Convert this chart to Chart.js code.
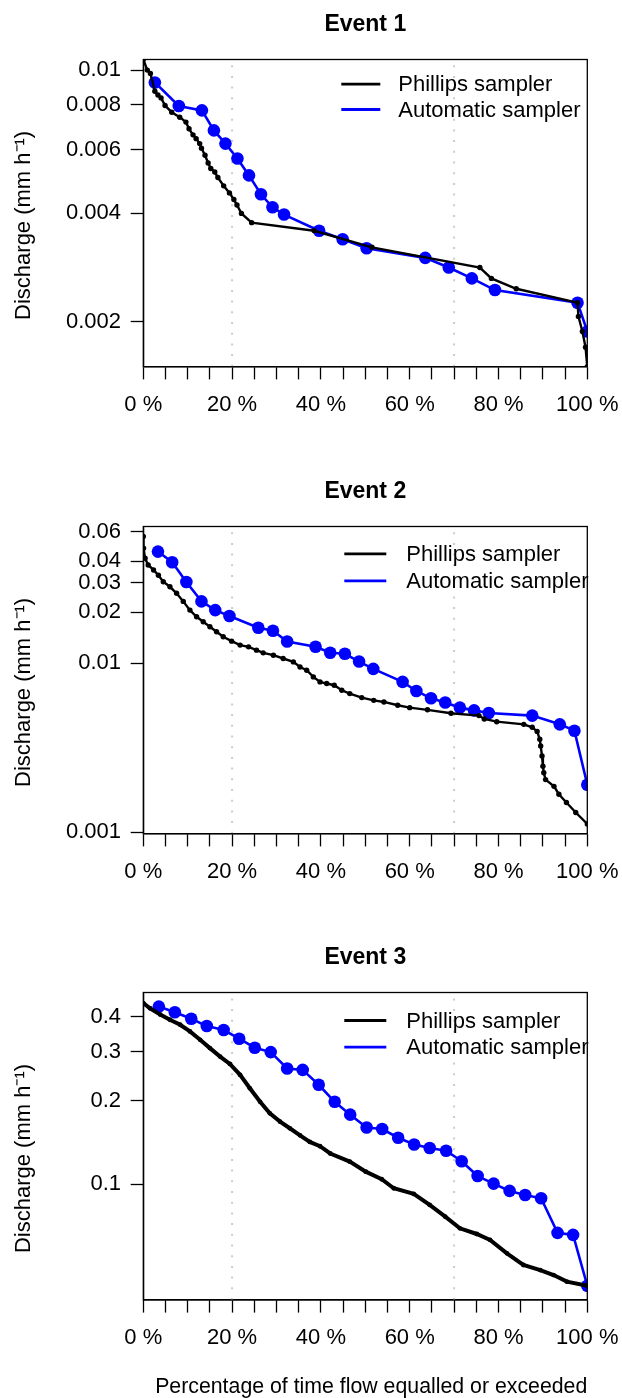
<!DOCTYPE html>
<html>
<head>
<meta charset="utf-8">
<script src="https://cdn.jsdelivr.net/npm/chart.js@4.4.0/dist/chart.umd.min.js"></script>
<style>
  html, body { margin: 0; padding: 0; background: #fff; }
  .panel { position: absolute; left: 0; width: 622px; }
</style>
</head>
<body>
<div class="panel" style="top:0px"><canvas id="event1" width="622" height="466"></canvas></div>
<div class="panel" style="top:467px"><canvas id="event2" width="622" height="466"></canvas></div>
<div class="panel" style="top:933px"><canvas id="event3" width="622" height="465"></canvas></div>
<script>
// Flow duration curves: % of time flow equalled or exceeded vs discharge (mm/h)
const event1PhillipsX = [0, 0.9, 1.6, 2.6, 3.3, 4.0, 4.9, 6.4, 8.2, 9.6, 10.3, 11.2, 11.9, 12.7, 13.1, 13.9, 14.6, 15.2, 16.1, 16.8, 18.1, 19.4, 20.4, 21.1, 22.1, 24.4, 38.5, 51.5, 75.8, 78.4, 84.0, 97.8, 98.0, 98.9, 99.6, 100];
const event1PhillipsY = [0.0107, 0.0100, 0.00979, 0.00873, 0.00853, 0.00837, 0.00797, 0.00764, 0.00740, 0.00717, 0.00687, 0.00661, 0.00645, 0.00625, 0.00607, 0.00580, 0.00552, 0.00533, 0.00521, 0.00503, 0.00477, 0.00456, 0.00437, 0.00422, 0.00400, 0.00377, 0.00358, 0.00322, 0.00283, 0.00264, 0.00247, 0.00226, 0.00207, 0.00188, 0.00170, 0.0015];
const event1AutoX = [2.6, 8.0, 13.2, 15.9, 18.5, 21.2, 23.8, 26.5, 29.1, 31.7, 39.6, 44.9, 50.3, 63.5, 68.8, 74.0, 79.2, 97.8, 100];
const event1AutoY = [0.00924, 0.00795, 0.00773, 0.00680, 0.00625, 0.00568, 0.00510, 0.00452, 0.00416, 0.00397, 0.00358, 0.00339, 0.00320, 0.00301, 0.00283, 0.00264, 0.00245, 0.00226, 0.00188];

const event2PhillipsX = [0, 0.05, 0.4, 1.1, 2.3, 3.4, 4.5, 6.0, 7.5, 9.0, 10.5, 12.0, 13.5, 15.0, 16.5, 18.0, 19.9, 21.8, 23.7, 25.5, 27.0, 29.3, 31.5, 33.8, 35.3, 36.8, 38.3, 39.8, 41.3, 43.0, 44.7, 46.5, 49.2, 51.9, 54.2, 57.3, 60.0, 64.0, 69.3, 75.6, 76.8, 79.6, 85.7, 87.6, 88.7, 89.3, 89.5, 89.8, 90.0, 90.2, 90.6, 92.5, 93.6, 95.3, 97.4, 100];
const event2PhillipsY = [0.0561, 0.0479, 0.0417, 0.0381, 0.0356, 0.0331, 0.0303, 0.0283, 0.0259, 0.0232, 0.0206, 0.0188, 0.01757, 0.01641, 0.01533, 0.01432, 0.0135, 0.01279, 0.01249, 0.01194, 0.01151, 0.01115, 0.01066, 0.01018, 0.0095, 0.00909, 0.0083, 0.00775, 0.00758, 0.00741, 0.00692, 0.00661, 0.00626, 0.00603, 0.0059, 0.00564, 0.00546, 0.0053, 0.00506, 0.0049, 0.00468, 0.00451, 0.00435, 0.00418, 0.00395, 0.00355, 0.00324, 0.00283, 0.00246, 0.00225, 0.00205, 0.00187, 0.00168, 0.0015, 0.00131, 0.00112];
const event2AutoX = [3.3, 6.5, 9.7, 13.1, 16.2, 19.4, 25.9, 29.2, 32.4, 38.8, 42.1, 45.4, 48.6, 51.8, 58.4, 61.5, 64.8, 68.0, 71.3, 74.5, 77.8, 87.6, 93.8, 97.1, 100];
const event2AutoY = [0.0457, 0.0395, 0.0302, 0.0232, 0.0206, 0.0190, 0.0162, 0.01555, 0.01344, 0.0125, 0.01152, 0.01136, 0.01023, 0.00926, 0.00775, 0.00685, 0.0062, 0.00585, 0.00546, 0.00526, 0.00508, 0.0049, 0.00435, 0.00399, 0.00191];

const event3PhillipsX = [0, 1.5, 3.8, 6.0, 8.3, 10.5, 12.8, 15.0, 17.3, 19.5, 21.8, 24.0, 26.3, 28.5, 30.8, 33.0, 35.3, 37.5, 39.8, 42.1, 46.5, 50.1, 53.7, 56.4, 60.9, 64.5, 68.0, 71.3, 75.1, 78.1, 81.9, 85.6, 89.4, 92.4, 95.4, 100];
const event3PhillipsY = [0.449, 0.430, 0.408, 0.391, 0.375, 0.355, 0.331, 0.309, 0.288, 0.271, 0.2475, 0.2215, 0.198, 0.180, 0.168, 0.159, 0.150, 0.142, 0.137, 0.129, 0.1206, 0.111, 0.1042, 0.0967, 0.0923, 0.0842, 0.0764, 0.0694, 0.0662, 0.0630, 0.0564, 0.0512, 0.0491, 0.0471, 0.0446, 0.0431];
const event3AutoX = [3.5, 7.1, 10.8, 14.3, 18.1, 21.6, 25.1, 28.7, 32.4, 35.9, 39.5, 43.1, 46.6, 50.3, 53.8, 57.4, 61.0, 64.5, 68.2, 71.7, 75.3, 78.9, 82.5, 86.0, 89.6, 93.3, 96.8, 100];
const event3AutoY = [0.436, 0.416, 0.394, 0.371, 0.359, 0.334, 0.310, 0.299, 0.261, 0.258, 0.228, 0.198, 0.178, 0.160, 0.158, 0.147, 0.139, 0.135, 0.132, 0.121, 0.107, 0.1005, 0.0946, 0.0915, 0.0890, 0.0668, 0.0657, 0.0431];

// axis ranges and ticks
const event1YRange = [0.0015, 0.0107];
const event2YRange = [0.00098, 0.0643];
const event3YRange = [0.0383, 0.49];
const event1YTicks = [0.002, 0.004, 0.006, 0.008, 0.01];
const event2YTicks = [0.001, 0.01, 0.02, 0.03, 0.04, 0.06];
const event3YTicks = [0.1, 0.2, 0.3, 0.4];
const xMinorTicks = [0, 5, 10, 15, 20, 25, 30, 35, 40, 45, 50, 55, 60, 65, 70, 75, 80, 85, 90, 95, 100];
const xTickLabels = [0, 20, 40, 60, 80, 100];
const guideLines = [20, 70];

const FONT = "'Liberation Sans', Arial, Helvetica, sans-serif";
Chart.defaults.font.family = FONT;
Chart.defaults.font.size = 22;
Chart.defaults.color = '#000';

function pairs(xs, ys) {
  return xs.map((x, i) => ({ x: x, y: ys[i] }));
}

// dotted guide lines, box round the plot and the legend
const decor = {
  id: 'decor',
  beforeDatasetsDraw(chart) {
    const ctx = chart.ctx, a = chart.chartArea, x = chart.scales.x;
    ctx.save();
    ctx.strokeStyle = '#cccccc';
    ctx.lineWidth = 2;
    ctx.setLineDash([2, 8.7]);
    guideLines.forEach(v => {
      const px = x.getPixelForValue(v);
      ctx.beginPath();
      ctx.moveTo(px, a.bottom);
      ctx.lineTo(px, a.top);
      ctx.stroke();
    });
    ctx.restore();
  },
  afterDraw(chart) {
    const ctx = chart.ctx, a = chart.chartArea;
    const lg = chart.options.plugins.decor;
    ctx.save();
    ctx.font = '22px ' + FONT;
    ctx.textBaseline = 'middle';
    chart.data.datasets.forEach((ds, i) => {
      const y = a.top + lg.rows[i];
      ctx.strokeStyle = ds.borderColor;
      ctx.lineWidth = 2.8;
      ctx.beginPath();
      ctx.moveTo(a.left + lg.lineStart, y);
      ctx.lineTo(a.left + lg.lineEnd, y);
      ctx.stroke();
      ctx.fillStyle = '#000';
      ctx.fillText(ds.label, a.left + lg.textX, y + 1);
    });
    ctx.strokeStyle = '#000';
    ctx.lineWidth = 1.3;
    ctx.strokeRect(a.left, a.top, a.right - a.left, a.bottom - a.top);
    ctx.restore();
  }
};

function makeChart(id, title, ph, au, yRange, yTicks, extra) {
  return new Chart(document.getElementById(id), {
    type: 'line',
    data: {
      datasets: [
        { label: 'Phillips sampler', data: ph, borderColor: '#000000', backgroundColor: '#000000',
          borderWidth: extra.phWidth, pointRadius: extra.phRadius, pointBorderWidth: 0, tension: 0 },
        { label: 'Automatic sampler', data: au, borderColor: '#0000ff', backgroundColor: '#0000ff',
          borderWidth: 2.6, pointRadius: 6.3, pointBorderWidth: 0, tension: 0 }
      ]
    },
    options: {
      responsive: false,
      animation: false,
      events: [],
      layout: { padding: { left: 0, right: 34.7, top: 0, bottom: 0 } },
      plugins: {
        legend: { display: false },
        tooltip: { enabled: false },
        title: { display: true, text: title, fullSize: false, color: '#000',
                 font: { size: 23, weight: 'bold' }, padding: { top: 10.7, bottom: 21.2 } },
        decor: extra.legend
      },
      scales: {
        x: {
          type: 'linear', min: 0, max: 100,
          afterBuildTicks: s => { s.ticks = xMinorTicks.map(v => ({ value: v })); },
          afterFit: s => { s.height = extra.xHeight; s.paddingLeft = 0; s.paddingRight = 0; },
          grid: { drawOnChartArea: false, tickLength: 12.6, tickColor: '#000', tickWidth: 1.3 },
          border: { color: '#000', width: 1.3 },
          ticks: { autoSkip: false, maxRotation: 0, padding: 12,
                   callback: v => xTickLabels.includes(v) ? v + ' %' : '' },
          title: { display: extra.xTitle, text: '\u00a0\u00a0Percentage of time flow equalled or exceeded',
                   padding: { top: 0, bottom: -1.7 } }
        },
        y: {
          type: 'logarithmic', min: yRange[0], max: yRange[1],
          afterBuildTicks: s => { s.ticks = yTicks.map(v => ({ value: v })); },
          afterFit: s => { s.width = 143.3; s.paddingTop = 0; s.paddingBottom = 0; },
          grid: { drawOnChartArea: false, tickLength: 12.6, tickColor: '#000', tickWidth: 1.3 },
          border: { color: '#000', width: 1.3 },
          ticks: { autoSkip: false, padding: 9.7, callback: v => String(v) },
          title: { display: true, text: 'Discharge (mm h\u207B\u00B9)\u00a0\u00a0\u00a0\u00a0',
                   padding: { top: 11, bottom: 0 } }
        }
      }
    },
    plugins: [decor]
  });
}

makeChart('event1', 'Event 1', pairs(event1PhillipsX, event1PhillipsY), pairs(event1AutoX, event1AutoY),
  event1YRange, event1YTicks,
  { phWidth: 2.4, phRadius: 2.7, xHeight: 99.2, xTitle: false,
    legend: { lineStart: 198, lineEnd: 237, textX: 255, rows: [24.7, 50] } });
makeChart('event2', 'Event 2', pairs(event2PhillipsX, event2PhillipsY), pairs(event2AutoX, event2AutoY),
  event2YRange, event2YTicks,
  { phWidth: 2.4, phRadius: 2.7, xHeight: 99.2, xTitle: false,
    legend: { lineStart: 201, lineEnd: 243, textX: 263, rows: [27.3, 54.3] } });
makeChart('event3', 'Event 3', pairs(event3PhillipsX, event3PhillipsY), pairs(event3AutoX, event3AutoY),
  event3YRange, event3YTicks,
  { phWidth: 4, phRadius: 2.4, xHeight: 98, xTitle: true,
    legend: { lineStart: 201, lineEnd: 243, textX: 263, rows: [28, 54.6] } });
</script>
</body>
</html>
